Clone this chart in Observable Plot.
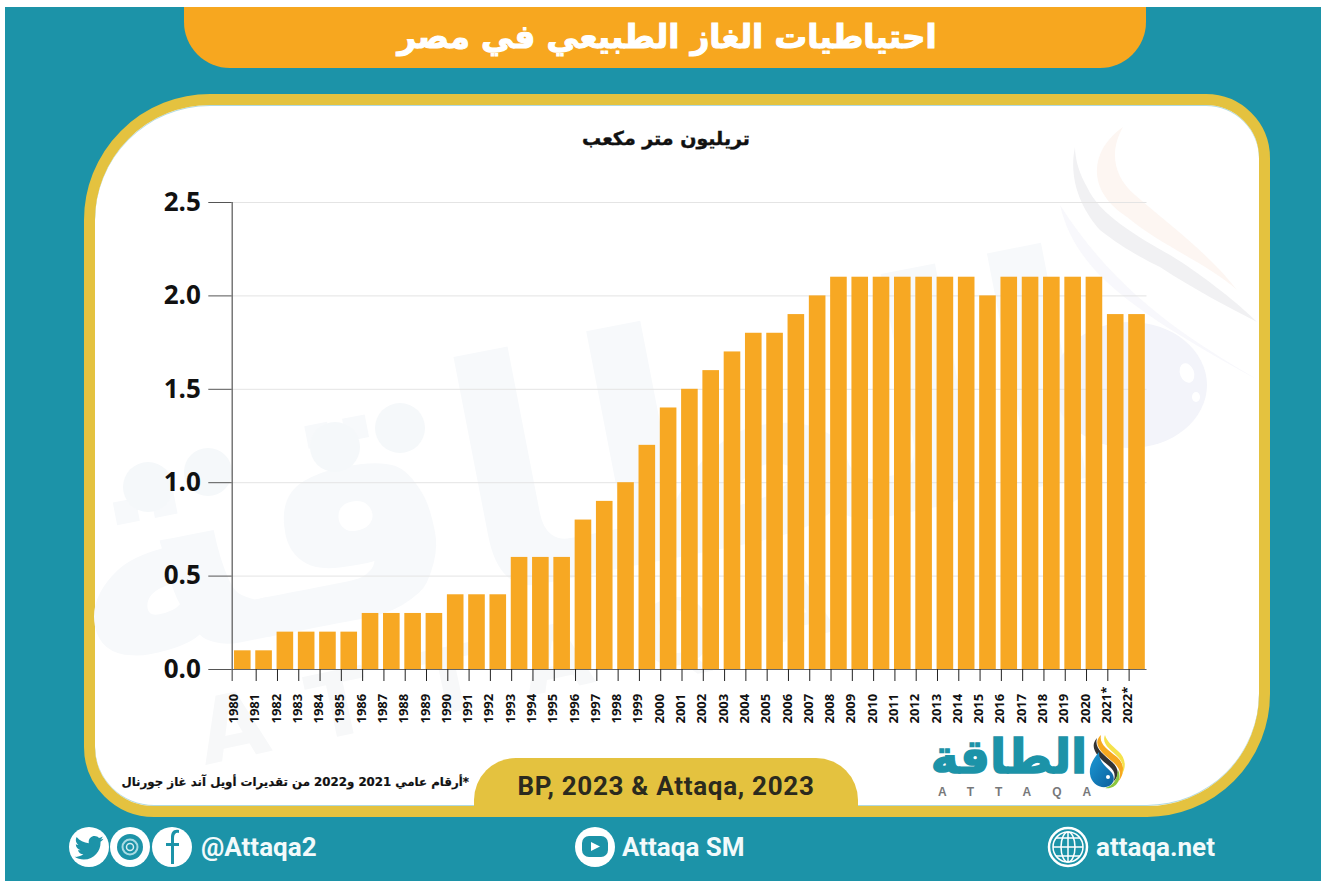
<!DOCTYPE html>
<html><head><meta charset="utf-8">
<script src="https://cdn.jsdelivr.net/npm/d3@7"></script>
<script src="https://cdn.jsdelivr.net/npm/@observablehq/plot@0.6"></script>
<style>
html,body{margin:0;padding:0;background:#fff;}
body{position:relative;width:1326px;height:881px;overflow:hidden;font-family:"Open Sans","DejaVu Sans",sans-serif;}
.a{position:absolute;white-space:nowrap;}
#plot{position:absolute;left:0;top:0;}
#plot svg{background:transparent;display:block;}
.ft{color:#f2fafb;font:bold 26px Roboto;top:832px;}
</style></head><body>
<div class="a" style="left:5px;top:7px;width:1316px;height:874px;background:#1c93a8"></div>
<div class="a" style="left:184px;top:7px;width:962px;height:61px;background:#f7a71f;border-radius:0 0 46px 46px"></div>
<div class="a" style="left:84px;top:94px;width:1186px;height:723px;box-sizing:border-box;background:#fff;border:11px solid #e4c23f;border-radius:126px 64px 123px 70px;box-shadow:inset 0 1px 0 rgba(28,147,168,.35),inset 0 -1px 0 rgba(28,147,168,.35)"></div>

<!-- faint background watermark -->
<svg class="a" style="left:0;top:0" width="1326" height="881">
  <g font-family="DejaVu Sans" font-weight="bold">
    <text x="575" y="575" text-anchor="middle" font-size="315" fill="#f7f9fb" transform="rotate(-11 575 455)" direction="rtl">الطاقة</text>
    <text x="205" y="765" font-size="90" fill="#f7f8f9" letter-spacing="50" transform="rotate(-12 205 765)">ATTAQA</text>
  </g>
  <g fill="#f5f8fa"><circle cx="148" cy="487" r="25"/><circle cx="208" cy="472" r="24"/><circle cx="335" cy="447" r="25"/><circle cx="400" cy="428" r="25"/></g>
  <ellipse cx="1130" cy="385" rx="77" ry="63" fill="#f3f4fa"/>
  <ellipse cx="1187" cy="373" rx="7" ry="10" fill="#fff" transform="rotate(-20 1187 373)"/>
  <ellipse cx="1196" cy="397" rx="4" ry="5" fill="#fff"/>
  <path d="M1060 205C1075 270 1130 310 1258 380C1200 345 1120 300 1060 205Z" fill="#f8f8fc"/>
  <path d="M1123 127C1090 150 1085 190 1127 217C1160 245 1210 265 1237 290C1210 255 1170 225 1135 195C1112 175 1110 150 1123 127Z" fill="#fdf6f2"/>
  <path d="M1075 147C1068 180 1082 210 1100 230C1125 250 1150 262 1160 267C1195 290 1230 308 1257 322C1235 300 1195 270 1170 255C1135 235 1100 215 1087 187C1080 175 1075 160 1075 147Z" fill="#f1f1f3"/>
</svg>

<div class="a" style="left:186px;top:18px;width:962px;text-align:center;color:#fff;font:bold 32.5px 'DejaVu Sans';-webkit-text-stroke:1.1px #fff;direction:rtl">احتياطيات الغاز الطبيعي في مصر</div>
<div class="a" style="left:84px;top:127px;width:1164px;text-align:center;color:#111;font:bold 19px 'DejaVu Sans';-webkit-text-stroke:.4px #111;direction:rtl">تريليون متر مكعب</div>
<div id="plot"></div>
<div class="a" style="left:474px;top:758px;width:384px;height:59px;background:#e4c23f;border-radius:42px 42px 0 0"></div>
<div class="a" style="left:474px;top:771px;width:384px;text-align:center;color:#2b2a1e;font:bold 26px Roboto;letter-spacing:.7px">BP, 2023 &amp; Attaqa, 2023</div>
<div class="a" style="left:99px;top:775px;width:370px;text-align:right;color:#111;font:bold 11.8px 'DejaVu Sans';-webkit-text-stroke:.2px #111;direction:rtl">*أرقام عامي 2021 و2022 من تقديرات أويل آند غاز جورنال</div>

<!-- logo -->
<div class="a" style="left:929px;top:729px;width:160px;text-align:center;color:#1c93a8;font:bold 47px 'DejaVu Sans';-webkit-text-stroke:1.5px #1c93a8;direction:rtl">الطاقة</div>
<div class="a" style="left:938px;top:785px;color:#77787a;font:bold 12px 'Liberation Sans';letter-spacing:21px">ATTAQA</div>
<svg class="a" style="left:1085px;top:730px" width="42" height="62" viewBox="0 0 42 62">
  <defs><linearGradient id="dg" x1="0" y1="0" x2="1" y2="1"><stop offset="0" stop-color="#1b9ad6"/><stop offset="1" stop-color="#0d5f9c"/></linearGradient></defs>
  <path d="M16 5C6 14 18 24 28 32C35 38 37 44 33 52C40 44 40 34 32 27C22 19 14 14 16 5Z" fill="#f6a81f"/>
  <path d="M12 8C3 18 14 28 24 36C30 41 31 46 28 52C35 46 34 38 27 32C18 24 9 18 12 8Z" fill="#333"/>
  <path d="M20 5C16 14 26 20 33 27C38 32 39 38 37 44C42 36 40 27 33 21C27 15 22 12 20 5Z" fill="#f5e24b"/>
  <path d="M33 40C38 50 30 60 20 58C28 56 32 50 33 40Z" fill="#8cc63f"/>
  <path d="M14 22C8 29 4 36 5 44C6 53 14 58 21 57C28 56 31 49 27 43C22 37 14 33 14 22Z" fill="url(#dg)"/>
  <circle cx="23" cy="47" r="2" fill="#fff"/>
</svg>

<!-- footer -->
<svg class="a" style="left:0;top:820px" width="1326" height="61">
  <g fill="#fff">
    <circle cx="89" cy="27" r="20"/><circle cx="130" cy="27" r="20"/><circle cx="172" cy="27" r="20"/>
    <circle cx="595" cy="27" r="20"/>
  </g>
  <path transform="translate(72.5 10.5) scale(1.38)" fill="#1c93a8" d="M22.46,6C21.69,6.35 20.86,6.58 20,6.69C20.88,6.16 21.56,5.32 21.88,4.31C21.05,4.81 20.13,5.16 19.16,5.36C18.37,4.5 17.26,4 16,4C13.65,4 11.73,5.92 11.73,8.29C11.73,8.63 11.77,8.96 11.84,9.27C8.28,9.09 5.11,7.38 3,4.79C2.63,5.42 2.42,6.16 2.42,6.94C2.42,8.43 3.17,9.75 4.33,10.5C3.62,10.5 2.96,10.3 2.38,10C2.38,10 2.38,10 2.38,10.03C2.38,12.11 3.86,13.85 5.82,14.24C5.46,14.34 5.08,14.39 4.69,14.39C4.42,14.39 4.15,14.36 3.89,14.31C4.43,16 6,17.26 7.89,17.29C6.43,18.45 4.58,19.13 2.56,19.13C2.22,19.13 1.88,19.11 1.54,19.07C3.44,20.29 5.7,21 8.12,21C16,21 20.33,14.46 20.33,8.79C20.33,8.6 20.33,8.42 20.32,8.23C21.16,7.63 21.88,6.87 22.46,6Z"/>
  <circle cx="130" cy="27" r="13" fill="#1c93a8"/>
  <circle cx="130" cy="27" r="7.5" fill="none" stroke="#a9dbe3" stroke-width="2"/>
  <circle cx="130" cy="27" r="3.5" fill="#1c93a8" stroke="#d6eef2" stroke-width="1.5"/>
  <path d="M179 10C173 9 171 12 171 18V23H166V26H171V44H174V26H179V23H174V18C174 14 176 12 179 13Z" fill="#1c93a8"/>
  <rect x="582" y="16" width="26" height="21" rx="7" fill="#1c93a8"/>
  <path d="M591 22L600 26.5L591 31Z" fill="#fff"/>
  <g fill="none" stroke="#fff">
    <circle cx="1068" cy="27" r="19" stroke-width="2.5"/>
    <circle cx="1068" cy="27" r="15" stroke-width="1.5"/>
    <ellipse cx="1068" cy="27" rx="7" ry="15" stroke-width="1.5"/>
    <path d="M1068 12V42M1053 27H1083M1056 18H1080M1056 36H1080" stroke-width="1.5"/>
  </g>
</svg>
<div class="a ft" style="left:201px">@Attaqa2</div>
<div class="a ft" style="left:622px">Attaqa SM</div>
<div class="a ft" style="left:1096px">attaqa.net</div>

<script>
const years = ["1980","1981","1982","1983","1984","1985","1986","1987","1988","1989","1990","1991","1992","1993","1994","1995","1996","1997","1998","1999","2000","2001","2002","2003","2004","2005","2006","2007","2008","2009","2010","2011","2012","2013","2014","2015","2016","2017","2018","2019","2020","2021*","2022*"];
const reserves = [0.1,0.1,0.2,0.2,0.2,0.2,0.3,0.3,0.3,0.3,0.4,0.4,0.4,0.6,0.6,0.6,0.8,0.9,1.0,1.2,1.4,1.5,1.6,1.7,1.8,1.8,1.9,2.0,2.1,2.1,2.1,2.1,2.1,2.1,2.1,2.0,2.1,2.1,2.1,2.1,2.1,1.9,1.9];
const yTicks = [0,0.5,1,1.5,2,2.5];
const rows = years.map((year,i)=>({year,value:reserves[i]}));
const chart = Plot.plot({
  width:1326,height:881,
  marginLeft:229.3,marginRight:1326-1149.5,marginTop:202,marginBottom:881-669,
  x:{domain:years,padding:0.22,align:0.5,round:false,label:null},
  y:{domain:[0,2.5],label:null},
  style:{background:"transparent",overflow:"visible"},
  marks:[
    Plot.gridY(yTicks,{stroke:"#e4e4e4",strokeOpacity:1,strokeWidth:1,insetLeft:2.4,insetRight:3}),
    Plot.barY(rows,{x:"year",y:"value",fill:"#f7a823"}),
    Plot.ruleY([0],{stroke:"#666",insetLeft:2.4,insetRight:3}),
    Plot.axisX(years.slice(1),{tickSize:12,tickFormat:null,stroke:"#222",dx:-7.9,label:null,tickPadding:0}),
    Plot.axisX({tickSize:0,tickRotate:-90,textAnchor:"start",tickPadding:54,dx:-9,fontSize:13,fontWeight:700,fontFamily:"'Open Sans'",fill:"#111",label:null}),
    Plot.ruleX([years[0]],{y1:0,y2:2.5,insetTop:12,stroke:"#555",strokeWidth:1.2,dx:-10.6}),
    Plot.axisY({ticks:yTicks,tickSize:23.4,dx:2.4,tickPadding:8,tickFormat:d3.format(".1f"),fontSize:26,fontWeight:700,fontFamily:"'Open Sans'",fill:"#111",stroke:"#555",label:null})
  ]
});
document.getElementById("plot").appendChild(chart);
</script>
</body></html>
